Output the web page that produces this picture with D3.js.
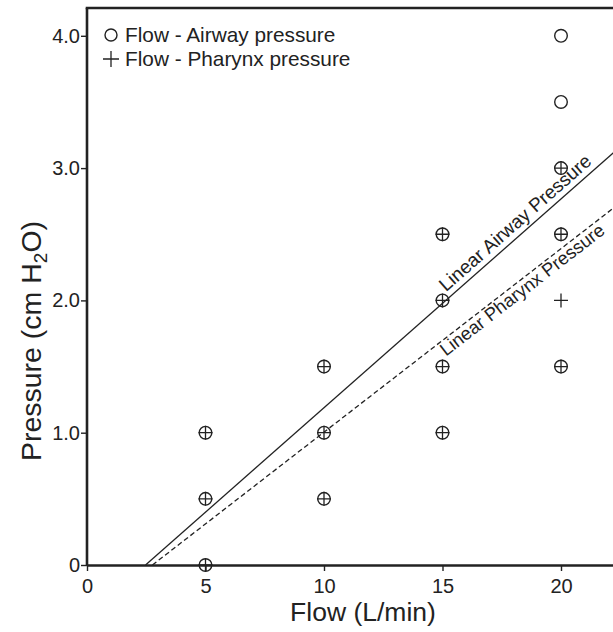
<!DOCTYPE html>
<html>
<head>
<meta charset="utf-8">
<script src="https://cdn.jsdelivr.net/npm/d3@7"></script>
<style>
  html, body { margin: 0; padding: 0; background: #fff; }
  svg { display: block; }
  text { font-family: "Liberation Sans", Arial, sans-serif; fill: #222; }
</style>
</head>
<body>
<svg id="chart" width="613" height="632"></svg>
<script>
// Data
const airwayX = [5, 5, 5, 10, 10, 10, 15, 15, 15, 15, 20, 20, 20, 20, 20];
const airwayY = [0, 0.5, 1.0, 0.5, 1.0, 1.5, 1.0, 1.5, 2.0, 2.5, 1.5, 2.5, 3.0, 3.5, 4.0];
const pharynxX = [5, 5, 5, 10, 10, 10, 15, 15, 15, 15, 20, 20, 20, 20];
const pharynxY = [0, 0.5, 1.0, 0.5, 1.0, 1.5, 1.0, 1.5, 2.0, 2.5, 1.5, 2.0, 2.5, 3.0];
const airwayFitX = [2.47, 22.3];
const airwayFitY = [0, 3.13];
const pharynxFitX = [2.76, 22.3];
const pharynxFitY = [0, 2.71];
const xTicks = [0, 5, 10, 15, 20];
const xTickLabels = ["0", "5", "10", "15", "20"];
const yTicks = [0, 1, 2, 3, 4];
const yTickLabels = ["0", "1.0", "2.0", "3.0", "4.0"];
const legendLabels = ["Flow - Airway pressure", "Flow - Pharynx pressure"];
const lineLabels = ["Linear Airway Pressure", "Linear Pharynx Pressure"];

const svg = d3.select("#chart");
const mLeft = 87, mTop = 8, mBottom = 565, mRight = 613;
const x = d3.scaleLinear().domain([0, (mRight - mLeft) / 23.7]).range([mLeft, mRight]);
const y = d3.scaleLinear().domain([0, (mBottom - mTop) / 132.3]).range([mBottom, mTop]);

const ink = "#222";

// Fit lines
function drawFit(xs, ys, dash) {
  const pts = xs.map((v, i) => [v, ys[i]]);
  svg.append("path")
    .attr("d", d3.line().x(d => x(d[0])).y(d => y(d[1]))(pts))
    .attr("fill", "none").attr("stroke", ink).attr("stroke-width", 1.3)
    .attr("stroke-dasharray", dash ? "5,3" : null);
}
drawFit(airwayFitX, airwayFitY, false);
drawFit(pharynxFitX, pharynxFitY, true);

// Line labels
function lineLabel(xs, ys, t, label, offset, fs) {
  const x0 = x(xs[0]), y0 = y(ys[0]), x1 = x(xs[1]), y1 = y(ys[1]);
  const ang = Math.atan2(y1 - y0, x1 - x0) * 180 / Math.PI;
  const px = x0 + (x1 - x0) * t, py = y0 + (y1 - y0) * t;
  svg.append("text")
    .attr("transform", `translate(${px},${py}) rotate(${ang}) translate(0,${offset})`)
    .attr("font-size", fs).text(label);
}
lineLabel(airwayFitX, airwayFitY, 0.648, lineLabels[0], -6, 19);
lineLabel(pharynxFitX, pharynxFitY, 0.614, lineLabels[1], 15, 18.4);

// Markers
svg.selectAll("circle.air").data(airwayX).enter().append("circle")
  .attr("cx", (d) => x(d)).attr("cy", (d, i) => y(airwayY[i])).attr("r", 6.3)
  .attr("fill", "none").attr("stroke", ink).attr("stroke-width", 1.4);
svg.selectAll("path.ph").data(pharynxX).enter().append("path")
  .attr("d", (d, i) => `M${x(d) - 7},${y(pharynxY[i])}H${x(d) + 7}M${x(d)},${y(pharynxY[i]) - 7}V${y(pharynxY[i]) + 7}`)
  .attr("fill", "none").attr("stroke", ink).attr("stroke-width", 1.3);

// Axes
const xAxis = svg.append("g").attr("transform", `translate(0,${mBottom})`)
  .call(d3.axisBottom(x).tickValues(xTicks).tickFormat((d, i) => xTickLabels[i]).tickSize(6).tickSizeOuter(0));
const yAxis = svg.append("g").attr("transform", `translate(${mLeft},0)`)
  .call(d3.axisLeft(y).tickValues(yTicks).tickFormat((d, i) => yTickLabels[i]).tickSize(6).tickSizeOuter(0));
[xAxis, yAxis].forEach(g => {
  g.select(".domain").attr("stroke", ink).attr("stroke-width", 2.6);
  g.selectAll(".tick line").attr("stroke", ink).attr("stroke-width", 1.4);
  g.selectAll(".tick text").attr("font-size", 20).attr("fill", ink)
    .attr("font-family", "Liberation Sans, Arial, sans-serif");
});
xAxis.selectAll(".tick text").attr("dy", "0.95em");
yAxis.selectAll(".tick text").attr("x", -7);
// top border
svg.append("line").attr("x1", mLeft - 1.3).attr("x2", mRight).attr("y1", mTop).attr("y2", mTop)
  .attr("stroke", ink).attr("stroke-width", 2.6);
yAxis.select(".domain").attr("d", `M0,${mTop}V${mBottom}`);

// Axis titles
svg.append("text").attr("x", 363).attr("y", 621)
  .attr("text-anchor", "middle").attr("font-size", 26.5).text("Flow (L/min)");
const yt = svg.append("text").attr("transform", `translate(41,341) rotate(-90)`)
  .attr("text-anchor", "middle").attr("font-size", 28.5);
yt.append("tspan").text("Pressure (cm H");
yt.append("tspan").attr("font-size", 19).attr("dy", 6).text("2");
yt.append("tspan").attr("dy", -6).text("O)");

// Legend
const lg = svg.append("g");
lg.append("circle").attr("cx", 111).attr("cy", 35).attr("r", 6).attr("fill", "none")
  .attr("stroke", ink).attr("stroke-width", 1.4);
lg.append("path").attr("d", "M103,59H119M111,51V67").attr("stroke", ink).attr("stroke-width", 1.3);
lg.append("text").attr("x", 125).attr("y", 42).attr("font-size", 20.8).text(legendLabels[0]);
lg.append("text").attr("x", 125).attr("y", 66).attr("font-size", 20.8).text(legendLabels[1]);
</script>
</body>
</html>
